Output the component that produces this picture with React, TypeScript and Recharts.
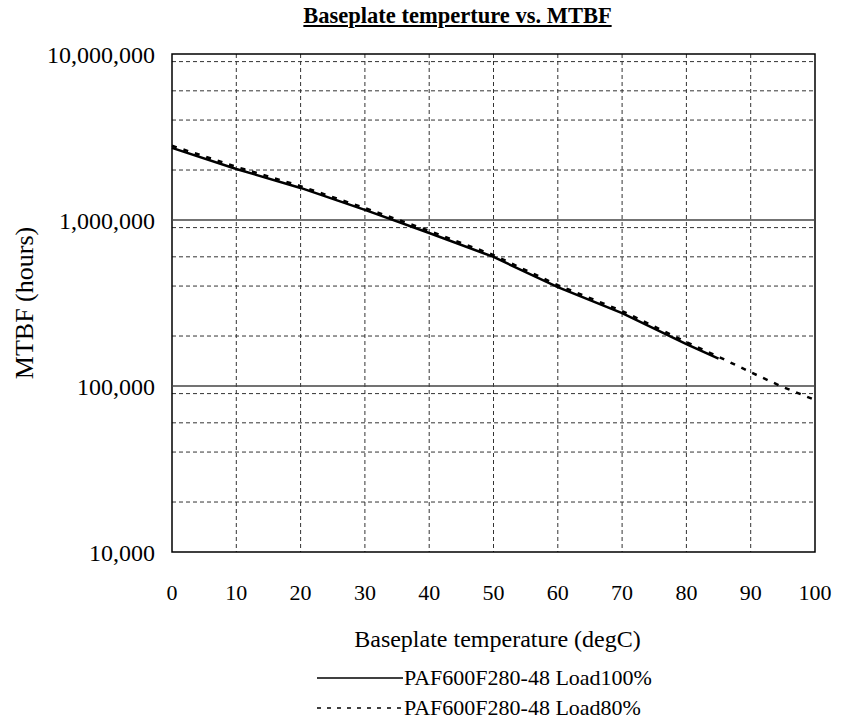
import React from "react";
import {
  LineChart,
  Line,
  XAxis,
  YAxis,
  CartesianGrid,
  ReferenceLine,
  ReferenceArea,
  Legend,
} from "recharts";

const temps = [0, 10, 20, 30, 40, 50, 60, 70, 80, 85, 90, 95, 100];
const load100 = [2720000, 2030000, 1560000, 1150000, 835000, 599000, 394000, 275000, 179000, 146000, null, null, null];
const load80 = [2800000, 2090000, 1600000, 1180000, 860000, 615000, 405000, 283000, 184000, 150000, 121000, 98600, 82400];

const xTicks = [0, 10, 20, 30, 40, 50, 60, 70, 80, 90, 100];
const yTicks = [10000, 100000, 1000000, 10000000];
const yMajor = [100000, 1000000];
const yMinor = [
  20000, 30000, 40000, 50000, 60000, 70000, 80000, 90000,
  200000, 300000, 400000, 500000, 600000, 700000, 800000, 900000,
  2000000, 3000000, 4000000, 5000000, 6000000, 7000000, 8000000, 9000000,
];
const xGrid = [10, 20, 30, 40, 50, 60, 70, 80, 90];

const seriesNames = ["PAF600F280-48 Load100%", "PAF600F280-48 Load80%"];

const FONT = "Liberation Serif, DejaVu Serif, serif";

const data = temps.map((t, i) => ({
  temp: t,
  load100: load100[i],
  load80: load80[i],
}));

export default function App() {
  return (
    <div
      style={{
        position: "absolute",
        left: 0,
        top: 0,
        width: 849,
        height: 722,
        background: "#fff",
        fontFamily: FONT,
      }}
    >
      <div
        style={{
          position: "absolute",
          top: 3,
          left: 0,
          width: 915,
          textAlign: "center",
          fontSize: 22.5,
          fontWeight: "bold",
          textDecoration: "underline",
        }}
      >
        Baseplate temperture vs. MTBF
      </div>
      <LineChart
        width={849}
        height={722}
        data={data}
        margin={{ top: 54, right: 34, left: 0, bottom: 0 }}
        style={{ fontFamily: FONT }}
      >
        <CartesianGrid
          stroke="#333"
          strokeDasharray="4 3"
          horizontalValues={yMinor}
          verticalValues={xGrid}
        />
        {yMajor.map((v) => (
          <ReferenceLine key={v} y={v} stroke="#444" strokeWidth={1.5} />
        ))}
        <ReferenceArea
          x1={0}
          x2={100}
          y1={10000}
          y2={10000000}
          fill="none"
          stroke="#000"
          strokeWidth={1.5}
          fillOpacity={0}
        />
        <XAxis
          dataKey="temp"
          type="number"
          domain={[0, 100]}
          ticks={xTicks}
          height={105}
          axisLine={false}
          tickLine={false}
          tickMargin={26}
          tick={{ fontSize: 22, fill: "#000", fontFamily: FONT }}
          label={{
            value: "Baseplate temperature (degC)",
            position: "insideBottom",
            offset: 10,
            dx: 4,
            style: { fontSize: 24, fill: "#000", fontFamily: FONT },
          }}
        />
        <YAxis
          scale="log"
          domain={[10000, 10000000]}
          ticks={yTicks}
          allowDataOverflow
          width={172}
          axisLine={false}
          tickLine={false}
          tickMargin={11}
          tickFormatter={(v: number) => v.toLocaleString("en-US")}
          tick={{ fontSize: 24, fill: "#000", fontFamily: FONT }}
          label={{
            value: "MTBF (hours)",
            angle: -90,
            position: "insideLeft",
            offset: 24,
            style: { textAnchor: "middle", fontSize: 26, fill: "#000", fontFamily: FONT },
          }}
        />
        <Legend verticalAlign="bottom" content={() => <LegendBox />} />
        <Line
          dataKey="load100"
          name={seriesNames[0]}
          type="linear"
          stroke="#000"
          strokeWidth={2.5}
          dot={false}
          connectNulls={false}
          isAnimationActive={false}
        />
        <Line
          dataKey="load80"
          name={seriesNames[1]}
          type="linear"
          stroke="#000"
          strokeWidth={2.5}
          strokeDasharray="5 7"
          dot={false}
          isAnimationActive={false}
        />
      </LineChart>
    </div>
  );
}

/* ------------------------------------------------------------------ */

function LegendBox() {
  const rows = [
    { name: seriesNames[0], dash: undefined },
    { name: seriesNames[1], dash: "4 6" },
  ];
  return (
    <div style={{ height: 65, paddingLeft: 317, paddingTop: 6, boxSizing: "border-box", fontFamily: FONT }}>
      {rows.map((r) => (
        <div key={r.name} style={{ display: "flex", alignItems: "center", height: 30 }}>
          <svg width={86} height={10}>
            <line x1={0} y1={5} x2={86} y2={5} stroke="#000" strokeWidth={1.5} strokeDasharray={r.dash} />
          </svg>
          <span style={{ fontSize: 22, color: "#000", marginLeft: 1 }}>{r.name}</span>
        </div>
      ))}
    </div>
  );
}
